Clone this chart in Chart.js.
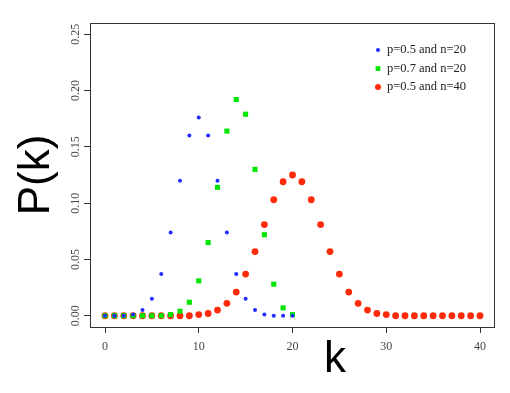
<!DOCTYPE html>
<html>
<head>
<meta charset="utf-8">
<script src="https://cdn.jsdelivr.net/npm/chart.js@4.4.0/dist/chart.umd.min.js"></script>
<style>
  html, body { margin: 0; padding: 0; background: #fff; }
  #wrap { width: 510px; height: 393px; }
</style>
</head>
<body>
<div id="wrap"><canvas id="chart" width="510" height="393"></canvas></div>
<script>
// values
const k20 = [0, 1, 2, 3, 4, 5, 6, 7, 8, 9, 10, 11, 12, 13, 14, 15, 16, 17, 18, 19, 20];
const k40 = [0, 1, 2, 3, 4, 5, 6, 7, 8, 9, 10, 11, 12, 13, 14, 15, 16, 17, 18, 19, 20,
  21, 22, 23, 24, 25, 26, 27, 28, 29, 30, 31, 32, 33, 34, 35, 36, 37, 38, 39, 40];
const pHalfN20 = [0, 0, 0, 0.001, 0.005, 0.015, 0.037, 0.074, 0.120, 0.160, 0.176,
  0.160, 0.120, 0.074, 0.037, 0.015, 0.005, 0.001, 0, 0, 0];
const pSevenN20 = [0, 0, 0, 0, 0, 0, 0, 0.001, 0.004, 0.012, 0.031,
  0.065, 0.114, 0.164, 0.192, 0.179, 0.130, 0.072, 0.028, 0.007, 0.001];
const pHalfN40 = [0, 0, 0, 0, 0, 0, 0, 0, 0, 0, 0.001, 0.002, 0.005, 0.011, 0.021, 0.037,
  0.057, 0.081, 0.103, 0.119, 0.125, 0.119, 0.103, 0.081, 0.057, 0.037, 0.021, 0.011,
  0.005, 0.002, 0.001, 0, 0, 0, 0, 0, 0, 0, 0, 0, 0];
const seriesLabels = ['p=0.5 and n=20', 'p=0.7 and n=20', 'p=0.5 and n=40'];
const xTicks = [0, 10, 20, 30, 40];
const yTicks = [0, 0.05, 0.10, 0.15, 0.20, 0.25];

const toPoints = (ks, ps) => ks.map((k, i) => ({ x: k, y: ps[i] }));

const axisColor = '#333';
const labelFont = { family: 'Liberation Serif', size: 12 };

// R-style box, in-plot legend and the x label
const rStyle = {
  id: 'rStyle',
  afterDraw(chart) {
    const { ctx, chartArea: a } = chart;
    ctx.save();
    ctx.strokeStyle = axisColor;
    ctx.lineWidth = 1;
    ctx.strokeRect(a.left + 0.5, a.top + 0.5, a.right - a.left - 1, a.bottom - a.top);

    ctx.font = '12.5px "Liberation Serif"';
    ctx.textBaseline = 'middle';
    chart.data.datasets.forEach((ds, i) => {
      const y = 50 + i * 18.5;
      ctx.fillStyle = ds.backgroundColor;
      Chart.helpers.drawPoint(ctx, {
        pointStyle: ds.pointStyle,
        radius: ds.legendRadius,
        borderWidth: 0,
      }, 378, y);
      ctx.fillStyle = '#222';
      ctx.fillText(ds.label, 387, y);
    });

    ctx.fillStyle = '#000';
    ctx.font = '44px "Liberation Sans"';
    ctx.textAlign = 'center';
    ctx.textBaseline = 'alphabetic';
    ctx.fillText('k', 335, 372);
    ctx.restore();
  },
};

const config = {
  type: 'scatter',
  plugins: [rStyle],
  data: {
    datasets: [
      {
        label: seriesLabels[0],
        data: toPoints(k20, pHalfN20),
        backgroundColor: '#1f2bff',
        borderColor: '#1f2bff',
        pointStyle: 'circle',
        pointRadius: 2,
        legendRadius: 2,
        pointBorderWidth: 0,
      },
      {
        label: seriesLabels[1],
        data: toPoints(k20, pSevenN20),
        backgroundColor: '#00e600',
        borderColor: '#00e600',
        pointStyle: 'rect',
        pointRadius: 3.6,
        legendRadius: 3.4,
        pointBorderWidth: 0,
      },
      {
        label: seriesLabels[2],
        data: toPoints(k40, pHalfN40),
        backgroundColor: '#ff2a0a',
        borderColor: '#ff2a0a',
        pointStyle: 'circle',
        pointRadius: 3.4,
        legendRadius: 3,
        pointBorderWidth: 0,
      },
    ],
  },
  options: {
    responsive: false,
    animation: false,
    events: [],
    layout: {
      padding: { top: 23, right: 15, bottom: 0, left: 0 },
    },
    plugins: {
      legend: { display: false },
      tooltip: { enabled: false },
    },
    scales: {
      x: {
        type: 'linear',
        min: -1.6,
        max: 41.6,
        afterBuildTicks: (scale) => { scale.ticks = xTicks.map((v) => ({ value: v })); },
        afterFit: (scale) => { scale.height = 66; },
        grid: {
          drawOnChartArea: false,
          drawTicks: true,
          tickLength: 6,
          tickColor: axisColor,
        },
        border: { display: false },
        ticks: {
          color: '#444',
          font: labelFont,
          padding: 7,
          maxRotation: 0,
          callback: (v) => String(v),
        },
      },
      y: {
        type: 'linear',
        min: -0.01,
        max: 0.26,
        afterBuildTicks: (scale) => { scale.ticks = yTicks.map((v) => ({ value: v })); },
        afterFit: (scale) => { scale.width = 90; },
        grid: {
          drawOnChartArea: false,
          drawTicks: true,
          tickLength: 6,
          tickColor: axisColor,
        },
        border: { display: false },
        ticks: {
          color: '#444',
          font: labelFont,
          minRotation: 90,
          maxRotation: 90,
          crossAlign: 'center',
          padding: -2,
          callback: (v) => v.toFixed(2),
        },
        title: {
          display: true,
          text: 'P(k)',
          color: '#000',
          font: { family: 'Liberation Sans', size: 44 },
          padding: { top: 10, bottom: 0 },
        },
      },
    },
  },
};

new Chart(document.getElementById('chart'), config);
</script>
</body>
</html>
